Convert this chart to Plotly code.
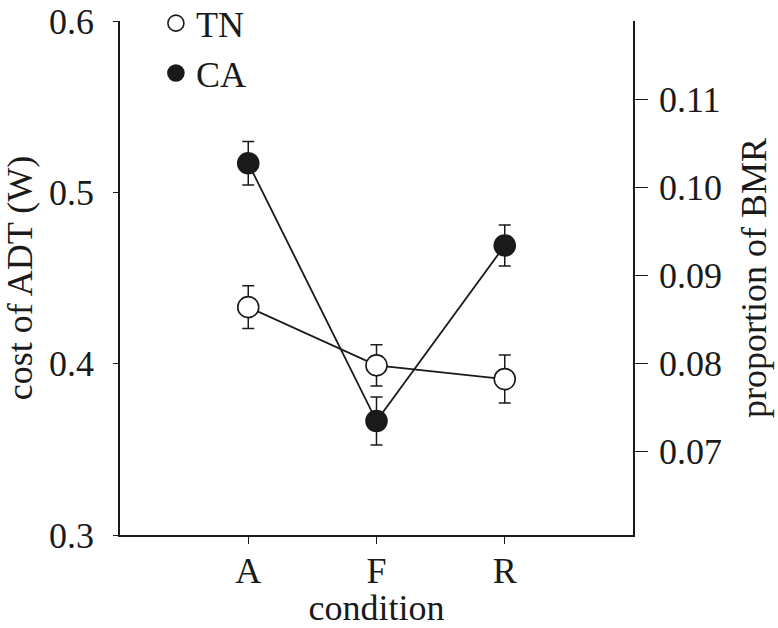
import plotly.graph_objects as go

FONT = "Liberation Serif"
INK = "#1a1a1a"

conditions = ["A", "F", "R"]
tn_cost = [0.433, 0.399, 0.391]
tn_err = [0.0125, 0.012, 0.014]
ca_cost = [0.517, 0.3665, 0.469]
ca_err = [0.0127, 0.014, 0.012]

left_ticks = [0.3, 0.4, 0.5, 0.6]
right_ticks = [0.07, 0.08, 0.09, 0.10, 0.11]
right_range = [0.0605, 0.1189]

x_idx = list(range(len(conditions)))

fig = go.Figure()

# connecting lines first so the markers sit on top
fig.add_trace(go.Scatter(x=x_idx, y=tn_cost, mode="lines", showlegend=False,
                         line=dict(color=INK, width=1.8), hoverinfo="skip"))
fig.add_trace(go.Scatter(x=x_idx, y=ca_cost, mode="lines", showlegend=False,
                         line=dict(color=INK, width=1.8), hoverinfo="skip"))

fig.add_trace(go.Scatter(
    x=x_idx, y=tn_cost, mode="markers", name="TN", legendgroup="tn",
    error_y=dict(type="data", array=tn_err, color=INK, thickness=1.5, width=6),
    marker=dict(symbol="circle", size=21, color="white",
                line=dict(color=INK, width=1.6))))
fig.add_trace(go.Scatter(
    x=x_idx, y=ca_cost, mode="markers", name="CA", legendgroup="ca",
    error_y=dict(type="data", array=ca_err, color=INK, thickness=1.5, width=6),
    marker=dict(symbol="circle", size=21, color=INK,
                line=dict(color=INK, width=1.6))))

# empty trace so the right-hand (proportion of BMR) axis gets drawn
fig.add_trace(go.Scatter(x=[], y=[], yaxis="y2", showlegend=False,
                         hoverinfo="skip"))

FS = 36
tick_font = dict(family=FONT, size=FS, color=INK)
title_font = dict(family=FONT, size=FS, color=INK)

fig.update_layout(
    width=778, height=628,
    margin=dict(l=120, r=145, t=21, b=93, autoexpand=False),
    paper_bgcolor="white", plot_bgcolor="white",
    font=dict(family=FONT, size=FS, color=INK),
    showlegend=True,
    legend=dict(x=0.07, y=1.054, xanchor="left", yanchor="top",
                bgcolor="rgba(0,0,0,0)", traceorder="grouped",
                tracegroupgap=0, font=dict(size=FS, family=FONT)),
    xaxis=dict(range=[-1, 3], tickvals=x_idx, ticktext=conditions,
               tickfont=tick_font,
               showgrid=False, zeroline=False, showline=True,
               linecolor=INK, linewidth=1.5, ticks="outside", ticklen=7,
               tickwidth=1.3, tickcolor=INK, ticklabelstandoff=-4,
               title=dict(text="condition", standoff=2, font=title_font)),
    yaxis=dict(range=[0.3, 0.6], tickvals=left_ticks,
               ticktext=[f"{v:.1f}" for v in left_ticks],
               tickfont=tick_font, ticklabeloverflow="allow",
               showgrid=False, zeroline=False, showline=True,
               linecolor=INK, linewidth=1.5, ticks="outside", ticklen=5,
               tickwidth=1.3, tickcolor=INK, ticklabelstandoff=12,
               title=dict(text="cost of ADT (W)", standoff=26,
                          font=title_font)),
    yaxis2=dict(range=right_range, overlaying="y", side="right", anchor="x",
                tickvals=right_ticks,
                ticktext=[f"{v:.2f}" for v in right_ticks],
                tickfont=tick_font, ticklabeloverflow="allow",
                showgrid=False, zeroline=False, showline=True,
                linecolor=INK, linewidth=1.5, ticks="outside", ticklen=13,
                tickwidth=1.3, tickcolor=INK, ticklabelstandoff=4,
                title=dict(text="proportion of BMR", standoff=20,
                           font=title_font)),
)

# drop the default 8px page margin so the figure fills the window exactly
fig.write_html("out.html", config={"displayModeBar": False},
               post_script="document.body.style.margin='0';")
